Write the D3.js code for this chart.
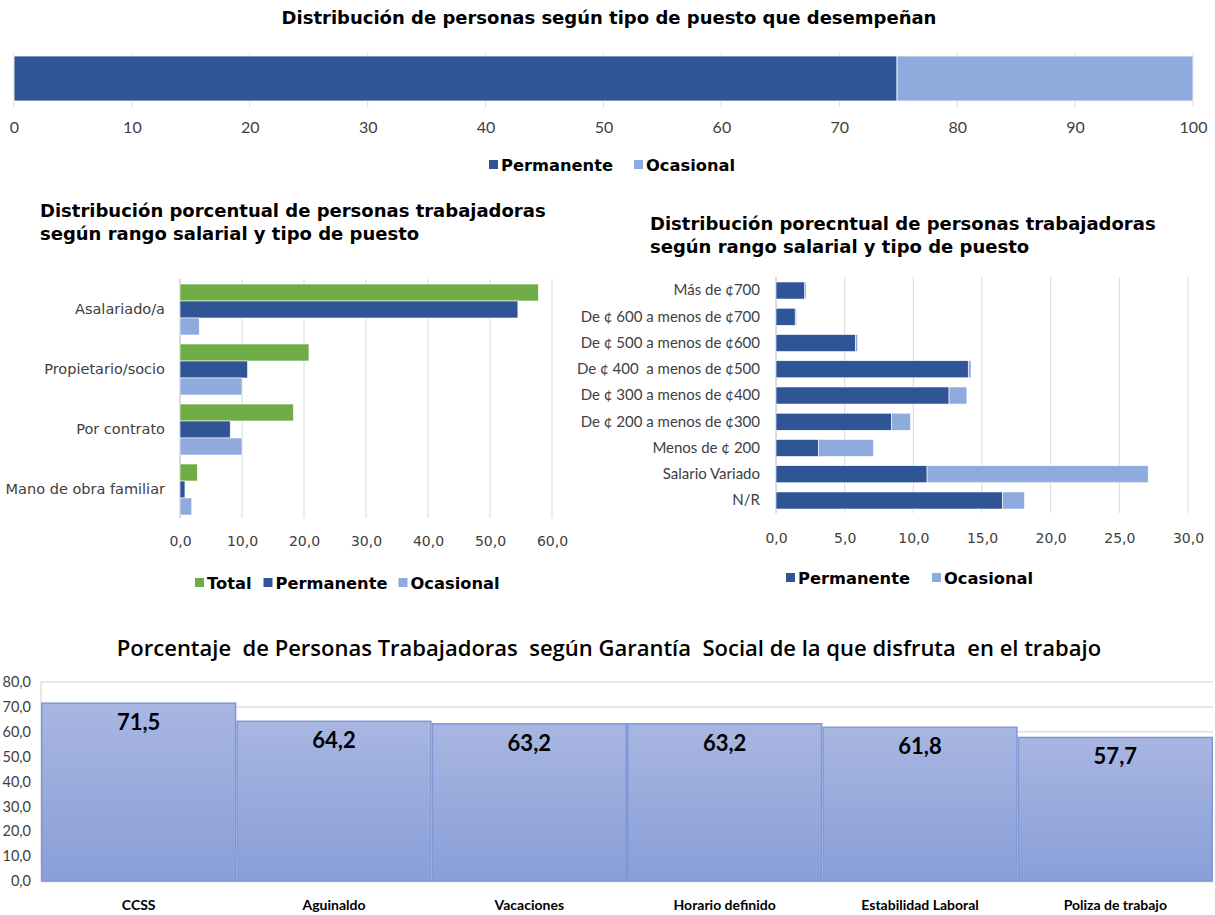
<!DOCTYPE html>
<html><head><meta charset="utf-8">
<script src="https://cdn.jsdelivr.net/npm/d3@7"></script>
<style>
html,body{margin:0;padding:0;background:#fff;}
svg{display:block;}
text{white-space:pre;}
</style></head>
<body>
<script>
// ---------- DATA ----------
// Chart 1: stacked 100% bar
const puestoSeries = ["Permanente", "Ocasional"];
const puestoValues = [74.9, 25.1];
const puestoTicks = [0,10,20,30,40,50,60,70,80,90,100];

// Chart 2: grouped horizontal bars
const tipoCategories = ["Asalariado/a", "Propietario/socio", "Por contrato", "Mano de obra familiar"];
const tipoSeries = ["Total", "Permanente", "Ocasional"];
const tipoTotal = [57.8, 20.8, 18.3, 2.8];
const tipoPermanente = [54.5, 10.9, 8.1, 0.8];
const tipoOcasional = [3.1, 10.0, 10.0, 1.9];
const tipoTicks = [0,10,20,30,40,50,60];

// Chart 3: stacked horizontal bars by salary range
const salarioCategories = ["Más de ¢700", "De ¢ 600 a menos de ¢700", "De ¢ 500 a menos de ¢600",
  "De ¢ 400  a menos de ¢500", "De ¢ 300 a menos de ¢400", "De ¢ 200 a menos de ¢300",
  "Menos de ¢ 200", "Salario Variado", "N/R"];
const salarioPermanente = [2.1, 1.4, 5.8, 14.0, 12.6, 8.4, 3.1, 11.0, 16.5];
const salarioOcasional = [0.1, 0.1, 0.15, 0.2, 1.3, 1.4, 4.0, 16.1, 1.6];
const salarioTicks = [0,5,10,15,20,25,30];

// Chart 4: social guarantees
const garantiaCategories = ["CCSS", "Aguinaldo", "Vacaciones", "Horario definido", "Estabilidad Laboral", "Poliza de trabajo"];
const garantiaValues = [71.5, 64.2, 63.2, 63.2, 61.8, 57.7];
const garantiaTicks = [0,10,20,30,40,50,60,70,80];

// ---------- STYLE ----------
const C_PERM = "#2f5597", C_OCAS = "#8faadc", C_TOT = "#70ad47", GRID = "#d9d9d9";
const F_V = "'DejaVu Sans', Verdana, sans-serif";
const F_C = "Lato, 'Open Sans', sans-serif";
const fmt1 = d => d3.format(".1f")(d).replace(".", ",");

const svg = d3.select("body").append("svg").attr("width", 1215).attr("height", 915);

function legend(g, items, x, y, font, size) {
  let cx = x;
  items.forEach(it => {
    g.append("rect").attr("x", cx).attr("y", y - 5).attr("width", 9).attr("height", 9).attr("fill", it.color);
    const t = g.append("text").attr("x", cx + 12).attr("y", y + 6).attr("font-family", font)
      .attr("font-size", size).attr("font-weight", "bold").attr("fill", "#000").text(it.name);
    cx += 12 + t.node().getComputedTextLength() + it.gap;
  });
}

// ---------- CHART 1 ----------
{
  const g = svg.append("g");
  g.append("text").attr("x", 609).attr("y", 24).attr("text-anchor", "middle")
    .attr("font-family", F_V).attr("font-weight", "bold").attr("font-size", 18).attr("fill", "#000")
    .text("Distribución de personas según tipo de puesto que desempeñan");
  const x = d3.scaleLinear().domain([0, 100]).range([14, 1193]);
  g.selectAll("line.grid").data(puestoTicks).join("line")
    .attr("x1", d => x(d)).attr("x2", d => x(d)).attr("y1", 53).attr("y2", 107)
    .attr("stroke", GRID).attr("stroke-width", 1);
  let acc = 0;
  const stack = puestoValues.map((v, i) => { const s = { x0: acc, x1: acc + v, i }; acc += v; return s; });
  g.selectAll("rect.bar").data(stack).join("rect")
    .attr("x", d => x(d.x0)).attr("width", d => x(d.x1) - x(d.x0))
    .attr("y", 56).attr("height", 45)
    .attr("fill", d => d.i === 0 ? C_PERM : C_OCAS)
    .attr("stroke", "#fff").attr("stroke-width", 0.8);
  const ax = g.append("g").attr("transform", "translate(0,119)")
    .call(d3.axisBottom(x).tickValues(puestoTicks).tickSize(0).tickFormat(d3.format("d")));
  ax.select(".domain").remove();
  ax.selectAll("text").attr("font-family", F_C).attr("font-size", 16).attr("fill", "#404040");
  legend(g, [{ name: "Permanente", color: C_PERM, gap: 21 }, { name: "Ocasional", color: C_OCAS, gap: 0 }],
    489, 165, F_V, 16.3);
}

// ---------- CHART 2 ----------
{
  const g = svg.append("g");
  const title = g.append("text").attr("font-family", F_V).attr("font-weight", "bold").attr("font-size", 18).attr("fill", "#000");
  title.append("tspan").attr("x", 40).attr("y", 217).text("Distribución porcentual de personas trabajadoras");
  title.append("tspan").attr("x", 40).attr("y", 240).text("según rango salarial y tipo de puesto");
  const x = d3.scaleLinear().domain([0, 60]).range([180, 552]);
  const y = d3.scaleBand().domain(tipoCategories).range([279.5, 519.5]).paddingInner(0.15).paddingOuter(0.075);
  const ys = d3.scaleBand().domain(tipoSeries).range([0, y.bandwidth()]);
  g.selectAll("line.grid").data(tipoTicks).join("line")
    .attr("x1", d => x(d)).attr("x2", d => x(d)).attr("y1", 279).attr("y2", 518)
    .attr("stroke", GRID).attr("stroke-width", d => d === 0 ? 2 : 1);
  const seriesVals = [tipoTotal, tipoPermanente, tipoOcasional];
  const seriesCol = [C_TOT, C_PERM, C_OCAS];
  tipoSeries.forEach((s, si) => {
    g.selectAll("rect.s" + si).data(tipoCategories).join("rect")
      .attr("x", x(0)).attr("y", c => y(c) + ys(s))
      .attr("width", (c, i) => x(seriesVals[si][i]) - x(0)).attr("height", ys.bandwidth())
      .attr("fill", seriesCol[si]).attr("stroke", "#fff").attr("stroke-width", 0.6);
  });
  const ay = g.append("g").attr("transform", "translate(168,0)")
    .call(d3.axisLeft(y).tickSize(0));
  ay.select(".domain").remove();
  ay.selectAll("text").attr("font-family", F_V).attr("font-size", 14.5).attr("fill", "#404040");
  const ax = g.append("g").attr("transform", "translate(0,533)")
    .call(d3.axisBottom(x).tickValues(tipoTicks).tickSize(0).tickFormat(fmt1));
  ax.select(".domain").remove();
  ax.selectAll("text").attr("font-family", F_V).attr("font-size", 14).attr("fill", "#404040");
  legend(g, [{ name: "Total", color: C_TOT, gap: 12 }, { name: "Permanente", color: C_PERM, gap: 11 }, { name: "Ocasional", color: C_OCAS, gap: 0 }],
    195, 583, F_V, 16.3);
}

// ---------- CHART 3 ----------
{
  const g = svg.append("g");
  const title = g.append("text").attr("font-family", F_V).attr("font-weight", "bold").attr("font-size", 18).attr("fill", "#000");
  title.append("tspan").attr("x", 650).attr("y", 230).text("Distribución porecntual de personas trabajadoras");
  title.append("tspan").attr("x", 650).attr("y", 253).text("según rango salarial y tipo de puesto");
  const x = d3.scaleLinear().domain([0, 30]).range([776, 1188]);
  const y = d3.scaleBand().domain(salarioCategories).range([277.4, 513.6]).paddingInner(0.35).paddingOuter(0.175);
  g.selectAll("line.grid").data(salarioTicks).join("line")
    .attr("x1", d => x(d)).attr("x2", d => x(d)).attr("y1", 277).attr("y2", 513)
    .attr("stroke", GRID).attr("stroke-width", d => d === 0 ? 2 : 1);
  g.selectAll("rect.p").data(salarioCategories).join("rect")
    .attr("x", x(0)).attr("y", c => y(c)).attr("height", y.bandwidth())
    .attr("width", (c, i) => x(salarioPermanente[i]) - x(0))
    .attr("fill", C_PERM).attr("stroke", "#fff").attr("stroke-width", 0.6);
  g.selectAll("rect.o").data(salarioCategories).join("rect")
    .attr("x", (c, i) => x(salarioPermanente[i])).attr("y", c => y(c)).attr("height", y.bandwidth())
    .attr("width", (c, i) => x(salarioPermanente[i] + salarioOcasional[i]) - x(salarioPermanente[i]))
    .attr("fill", C_OCAS).attr("stroke", "#fff").attr("stroke-width", 0.6);
  const ay = g.append("g").attr("transform", "translate(763,0)")
    .call(d3.axisLeft(y).tickSize(0));
  ay.select(".domain").remove();
  ay.selectAll("text").attr("font-family", F_C).attr("font-size", 15).attr("fill", "#404040");
  const ax = g.append("g").attr("transform", "translate(0,530)")
    .call(d3.axisBottom(x).tickValues(salarioTicks).tickSize(0).tickFormat(fmt1));
  ax.select(".domain").remove();
  ax.selectAll("text").attr("font-family", F_V).attr("font-size", 14).attr("fill", "#404040");
  legend(g, [{ name: "Permanente", color: C_PERM, gap: 22 }, { name: "Ocasional", color: C_OCAS, gap: 0 }],
    786, 578, F_V, 16.3);
}

// ---------- CHART 4 ----------
{
  const g = svg.append("g");
  g.append("text").attr("x", 609).attr("y", 656).attr("text-anchor", "middle")
    .attr("font-family", "'Open Sans', Lato, sans-serif").attr("font-weight", 600).attr("font-size", 22).attr("fill", "#000")
    .text("Porcentaje  de Personas Trabajadoras  según Garantía  Social de la que disfruta  en el trabajo");
  const defs = svg.append("defs");
  const grad = defs.append("linearGradient").attr("id", "bgrad").attr("x1", 0).attr("x2", 0).attr("y1", 0).attr("y2", 1);
  grad.append("stop").attr("offset", "0%").attr("stop-color", "#a8b6e1");
  grad.append("stop").attr("offset", "100%").attr("stop-color", "#899fd8");
  const x = d3.scaleBand().domain(garantiaCategories).range([41, 1213]).padding(0);
  const y = d3.scaleLinear().domain([0, 80]).range([881, 682]);
  g.selectAll("line.grid").data(garantiaTicks).join("line")
    .attr("x1", 41).attr("x2", 1213).attr("y1", d => y(d)).attr("y2", d => y(d))
    .attr("stroke", d => d === 0 ? "#d0d0d0" : "#e0e0e0").attr("stroke-width", d => d === 0 ? 2.5 : 1.5);
  g.append("line").attr("x1", 41).attr("x2", 41).attr("y1", y(80)).attr("y2", y(0))
    .attr("stroke", "#e0e0e0").attr("stroke-width", 1.5);
  g.selectAll("rect.bar").data(garantiaCategories).join("rect")
    .attr("x", c => x(c) + 0.75).attr("width", x.bandwidth() - 1.5)
    .attr("y", (c, i) => y(garantiaValues[i])).attr("height", (c, i) => y(0) - y(garantiaValues[i]))
    .attr("fill", "url(#bgrad)").attr("stroke", "#7f99d6").attr("stroke-width", 1.5);
  g.selectAll("text.val").data(garantiaCategories).join("text")
    .attr("x", c => x(c) + x.bandwidth() / 2).attr("y", (c, i) => y(garantiaValues[i]) + 27)
    .attr("text-anchor", "middle").attr("font-family", F_C).attr("font-weight", "bold")
    .attr("font-size", 22).attr("fill", "#000").text((c, i) => fmt1(garantiaValues[i]));
  const ay = g.append("g").attr("transform", "translate(34,0)")
    .call(d3.axisLeft(y).tickValues(garantiaTicks).tickSize(0).tickFormat(fmt1));
  ay.select(".domain").remove();
  ay.selectAll("text").attr("font-family", F_C).attr("font-size", 14.5).attr("fill", "#404040");
  const ax = g.append("g").attr("transform", "translate(0,897)")
    .call(d3.axisBottom(x).tickSize(0));
  ax.select(".domain").remove();
  ax.selectAll("text").attr("font-family", F_C).attr("font-weight", "bold").attr("font-size", 14).attr("fill", "#000");
}
</script>
</body></html>
